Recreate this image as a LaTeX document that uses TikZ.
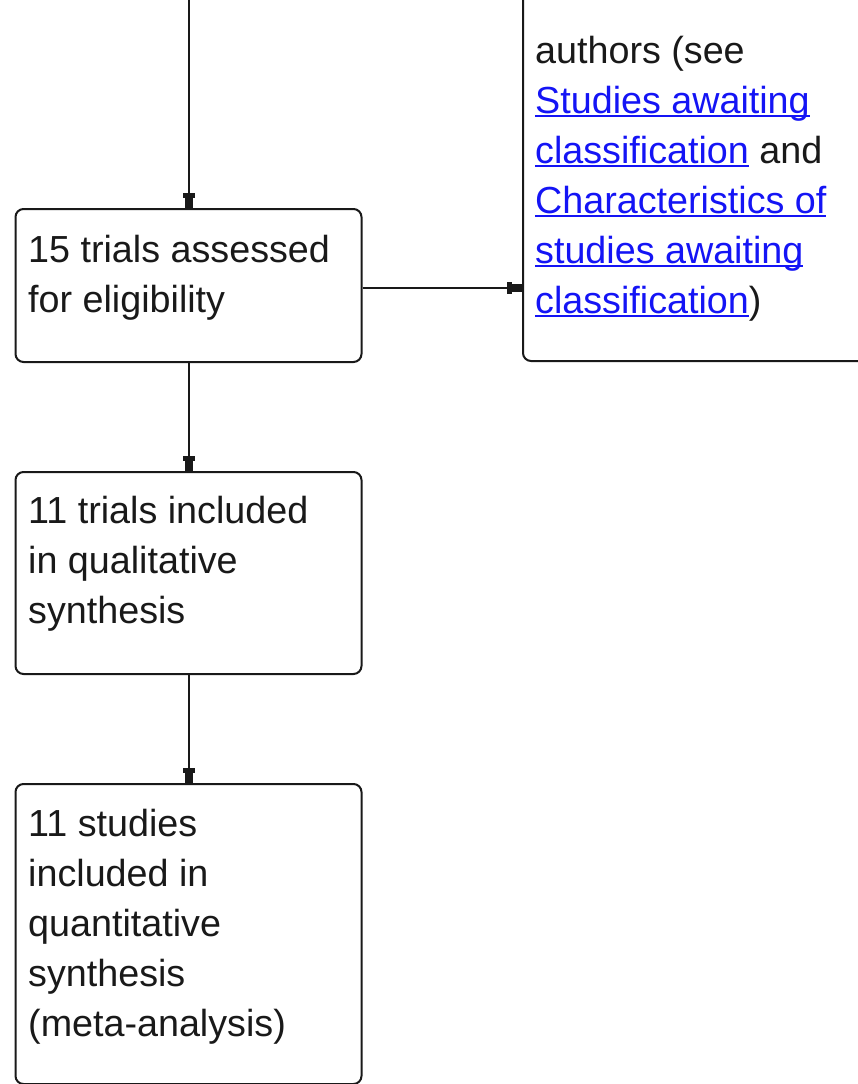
\documentclass[tikz,border=0pt]{standalone}
\usepackage{fontspec}
\setmainfont{Liberation Sans}
\usetikzlibrary{arrows.meta}
\definecolor{lnk}{RGB}{20,20,245}
\definecolor{ink}{RGB}{25,25,25}
\newcommand\lk[1]{{\color{lnk}\setbox0\hbox{#1}\rlap{\rule[-4pt]{\wd0}{2pt}}\box0}}
\newcommand\sst{\rule[-13pt]{0pt}{50pt}}
\begin{document}
\begin{tikzpicture}[x=1pt,y=-1pt,
  box/.style={draw=ink,line width=2pt,rounded corners=8pt,inner sep=0pt},
  txt/.style={anchor=north west,inner sep=0pt,align=left,font=\fontsize{37.7}{50}\selectfont,text=ink},
  arr/.style={draw=ink,line width=2pt,-{Rectangle[length=5pt,width=12pt,sep=0pt]Rectangle[length=10pt,width=8pt]}}]
\useasboundingbox (0,0) rectangle (858,1084);
% boxes
\node[box,minimum width=346pt,minimum height=153pt] (a) at (188.5,285.5) {};
\node[box,minimum width=346pt,minimum height=202pt] (b) at (188.5,573) {};
\node[box,minimum width=346pt,minimum height=300pt] (c) at (188.5,934) {};
\node[box,minimum width=397pt,minimum height=421pt] (r) at (721.5,150.5) {};
% texts
\node[txt] (ta) at (28,225) {\sst 15 trials assessed\\\sst for eligibility};
\node[txt] (tb) at (28,486) {\sst 11 trials included\\\sst in qualitative\\\sst synthesis};
\node[txt] (tc) at (28,799) {\sst 11 studies\\\sst included in\\\sst quantitative\\\sst synthesis\\\sst (meta-analysis)};
\node[txt] (tr) at (535,26) {\sst authors (see\\\sst\lk{Studies awaiting}\\\sst\lk{classification} and\\\sst\lk{Characteristics of}\\\sst\lk{studies awaiting}\\\sst\lk{classification})};
% connectors
\coordinate (top) at (188.5,-5);
\draw[arr] (top) -- (a.north);
\draw[arr] ([yshift=-2.5pt]a.east) -- ([yshift=-2.5pt]a.east -| r.west);
\draw[arr] (a.south) -- (b.north);
\draw[arr] (b.south) -- (c.north);
\end{tikzpicture}
\end{document}
